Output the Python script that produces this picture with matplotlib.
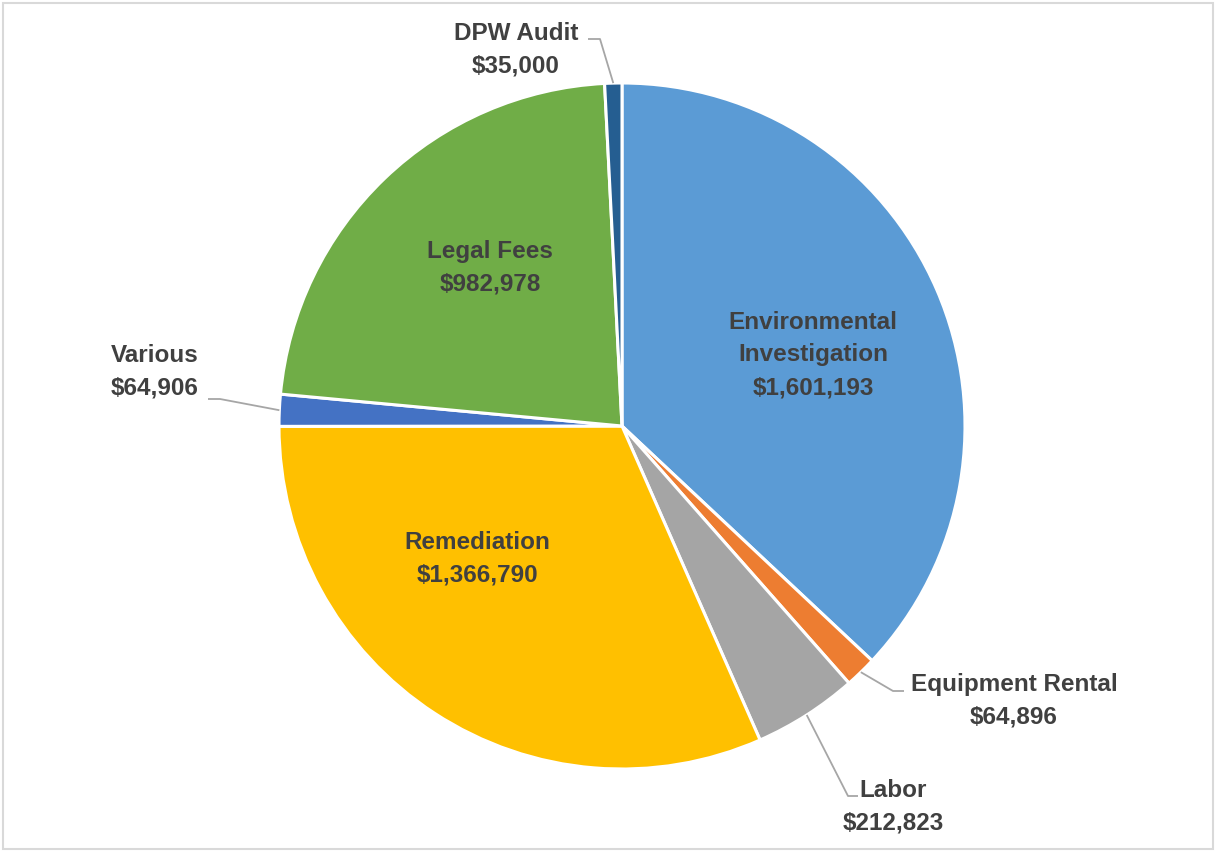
import numpy as np
import matplotlib.pyplot as plt
from matplotlib.patches import Rectangle

# data
categories = ['Environmental\nInvestigation', 'Equipment Rental', 'Labor',
              'Remediation', 'Various', 'Legal Fees', 'DPW Audit']
values = [1601193, 64896, 212823, 1366790, 64906, 982978, 35000]
colors = ['#5B9BD5', '#ED7D31', '#A5A5A5', '#FFC000', '#4472C4', '#70AD47', '#255E91']

plt.rcParams['font.family'] = ['Liberation Sans', 'DejaVu Sans']

W, H = 1217, 853
fig = plt.figure(figsize=(W / 100, H / 100), dpi=100)
ax = fig.add_axes([0, 0, 1, 1])

cx, cy, R = 622, H - 427, 343
wedges, _ = ax.pie(values, colors=colors, startangle=90, counterclock=False,
                   center=(cx, cy), radius=R, frame=True,
                   wedgeprops=dict(edgecolor='white', linewidth=2.2))
ax.set_xlim(0, W)
ax.set_ylim(0, H)
ax.set_aspect('equal')
ax.axis('off')

# chart border
ax.add_patch(Rectangle((3, 3), W - 7, H - 7, fill=False, edgecolor='#D9D9D9', lw=1.5))

tcol = '#404040'
fs = 17.5


def label(i):
    return categories[i] + '\n$' + f'{values[i]:,}'


def mid(i):
    w = wedges[i]
    return np.deg2rad((w.theta1 + w.theta2) / 2)


# inside labels (text centres)
inside = {0: (813, 355), 5: (490, 268), 3: (477, 559)}
for i, (x, y) in inside.items():
    ax.text(x, H - y, label(i).replace('$', r'\$'), ha='center', va='center',
            fontsize=fs, fontweight='bold', color=tcol, linespacing=1.55)

# outside labels with leader lines: (text centre, elbow point, elbow end)
outside = {
    6: ((516, 50), (600, 40), (588, 40)),
    4: ((155, 372), (220, 400), (208, 400)),
    1: ((1014, 701), (893, 692), (904, 692)),
    2: ((893, 807), (848, 797), (858, 797)),
}
for i, ((x, y), (ex, ey), (tx, ty)) in outside.items():
    a = mid(i)
    px, py = cx + R * np.cos(a), cy + R * np.sin(a)
    ax.plot([px, ex, tx], [py, H - ey, H - ty], color='#A6A6A6', lw=1.3,
            solid_capstyle='butt')
    ax.text(x, H - y, label(i).replace('$', r'\$'), ha='center', va='center',
            fontsize=fs, fontweight='bold', color=tcol, linespacing=1.55)

fig.savefig('out.png', dpi=100)
